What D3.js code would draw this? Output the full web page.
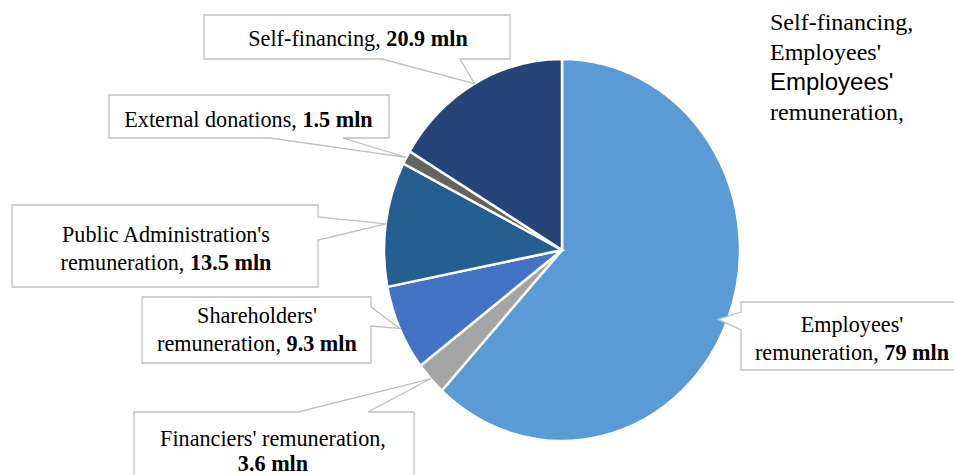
<!DOCTYPE html>
<html><head><meta charset="utf-8">
<script src="https://cdn.jsdelivr.net/npm/d3@7"></script>
</head><body style="margin:0">
<svg id="c" width="954" height="475" style="display:block"></svg>
<script>
const categories = ["Employees' remuneration", "Financiers' remuneration", "Shareholders' remuneration", "Public Administration's remuneration", "External donations", "Self-financing"];
const values = [79, 3.6, 9.3, 13.5, 1.5, 20.9];
const valueLabels = ["79 mln", "3.6 mln", "9.3 mln", "13.5 mln", "1.5 mln", "20.9 mln"];
const labelLines = [
  ["Employees'", "remuneration,"],
  ["Financiers' remuneration,", ""],
  ["Shareholders'", "remuneration,"],
  ["Public Administration's", "remuneration,"],
  ["External donations,"],
  ["Self-financing,"]
];
const colors = ["#5B9BD5", "#A5A5A5", "#4472C4", "#255E91", "#636363", "#264478"];

const boxes = [
  {x:741, y:302, w:222, h:68, side:"left",   b0:312, b1:330, cx:852, ys:[332,360]},
  {x:134, y:412, w:280, h:70, side:"top",    b0:298, b1:368, cx:273, ys:[446,471]},
  {x:142, y:297, w:229, h:66, side:"right",  b0:307, b1:326, cx:257, ys:[323,351]},
  {x:12,  y:205, w:306, h:82, side:"right",  b0:217, b1:240, cx:166, ys:[242,270]},
  {x:109, y:95,  w:280, h:43, side:"bottom", b0:270, b1:343, cx:248.5, ys:[127]},
  {x:204, y:15,  w:306, h:44, side:"bottom", b0:382, b1:460, cx:358, ys:[46]}
];

const svg = d3.select("#c");
const cx = 562, cy = 250, rx = 178, ry = 191, SX = 0.925, GAP = 6;

const pie = d3.pie().sort(null).value(d => d)(values);
const arc = d3.arc().innerRadius(0).outerRadius(ry);
const edgeArc = d3.arc().innerRadius(ry).outerRadius(ry);

const g = svg.append("g").attr("transform", `translate(${cx},${cy}) scale(${rx/ry},1)`);
g.selectAll("path").data(pie).enter().append("path")
  .attr("d", arc)
  .attr("fill", (d,i) => colors[i])
  .attr("stroke", "#fff").attr("stroke-width", 2.5)
  .attr("vector-effect", "non-scaling-stroke");

function calloutPath(b, tip) {
  const {x,y,w,h} = b, r = x+w, bt = y+h;
  if (b.side === "bottom")
    return `M${x},${y}H${r}V${bt}H${b.b1}L${tip[0]},${tip[1]}L${b.b0},${bt}H${x}Z`;
  if (b.side === "top")
    return `M${x},${y}H${b.b0}L${tip[0]},${tip[1]}L${b.b1},${y}H${r}V${bt}H${x}Z`;
  if (b.side === "right")
    return `M${x},${y}H${r}V${b.b0}L${tip[0]},${tip[1]}L${r},${b.b1}V${bt}H${x}Z`;
  return `M${x},${y}H${r}V${bt}H${x}V${b.b1}L${tip[0]},${tip[1]}L${x},${b.b0}Z`;
}

const lab = svg.append("g");
const txt = svg.append("g");

function addLine(cxp, y, plain, bold) {
  const parts = [];
  if (plain) parts.push({t: plain, w: "normal"});
  if (bold) parts.push({t: bold, w: "bold"});
  const els = parts.map(p => {
    const e = txt.append("text")
      .style("font-family", '"Liberation Serif"')
      .attr("font-size", 24)
      .text(p.t);
    if (p.w === "bold") e.attr("font-weight", "bold");
    return e;
  });
  const widths = els.map(e => e.node().getComputedTextLength());
  const total = d3.sum(widths) + GAP * (els.length - 1);
  let x = cxp - SX * total / 2;
  els.forEach((e, k) => {
    e.attr("transform", `translate(${x},${y}) scale(${SX},1)`);
    x += SX * (widths[k] + GAP);
  });
}

pie.forEach((d,i) => {
  const c = edgeArc.centroid(d);
  let tip = [cx + c[0]*rx/ry, cy + c[1]];
  const b = boxes[i];
  if (b.side === "left") tip = [tip[0] - 10, tip[1]];
  lab.append("path").attr("d", calloutPath(b, tip))
    .attr("fill", "#fff").attr("stroke", "#BFBFBF").attr("stroke-width", 1.3);
  const lines = labelLines[i];
  const ownLine = lines.length === 2 && lines[1] === "";
  lines.forEach((ln, j) => {
    const last = j === lines.length - 1;
    if (ownLine && last) addLine(b.cx, b.ys[j], "", valueLabels[i]);
    else addLine(b.cx, b.ys[j], ln, last ? valueLabels[i] : "");
  });
});

// temporary check: same strings, plain placement
const tst = svg.append("g");
tst.append("text").attr("x", 770).attr("y", 30).style("font-family", '"Liberation Serif"').attr("font-size", 24).text("Self-financing,");
tst.append("text").attr("x", 770).attr("y", 60).style("font-family", '"Liberation Serif"').attr("font-size", 24).text("Employees'");
tst.append("text").attr("x", 770).attr("y", 90).style("font-family", '"Liberation Sans"').attr("font-size", 24).text("Employees'");
tst.append("text").attr("x", 770).attr("y", 120).style("font-family", '"Liberation Serif"').attr("font-size", 24).text("remuneration,");
</script>
</body></html>
